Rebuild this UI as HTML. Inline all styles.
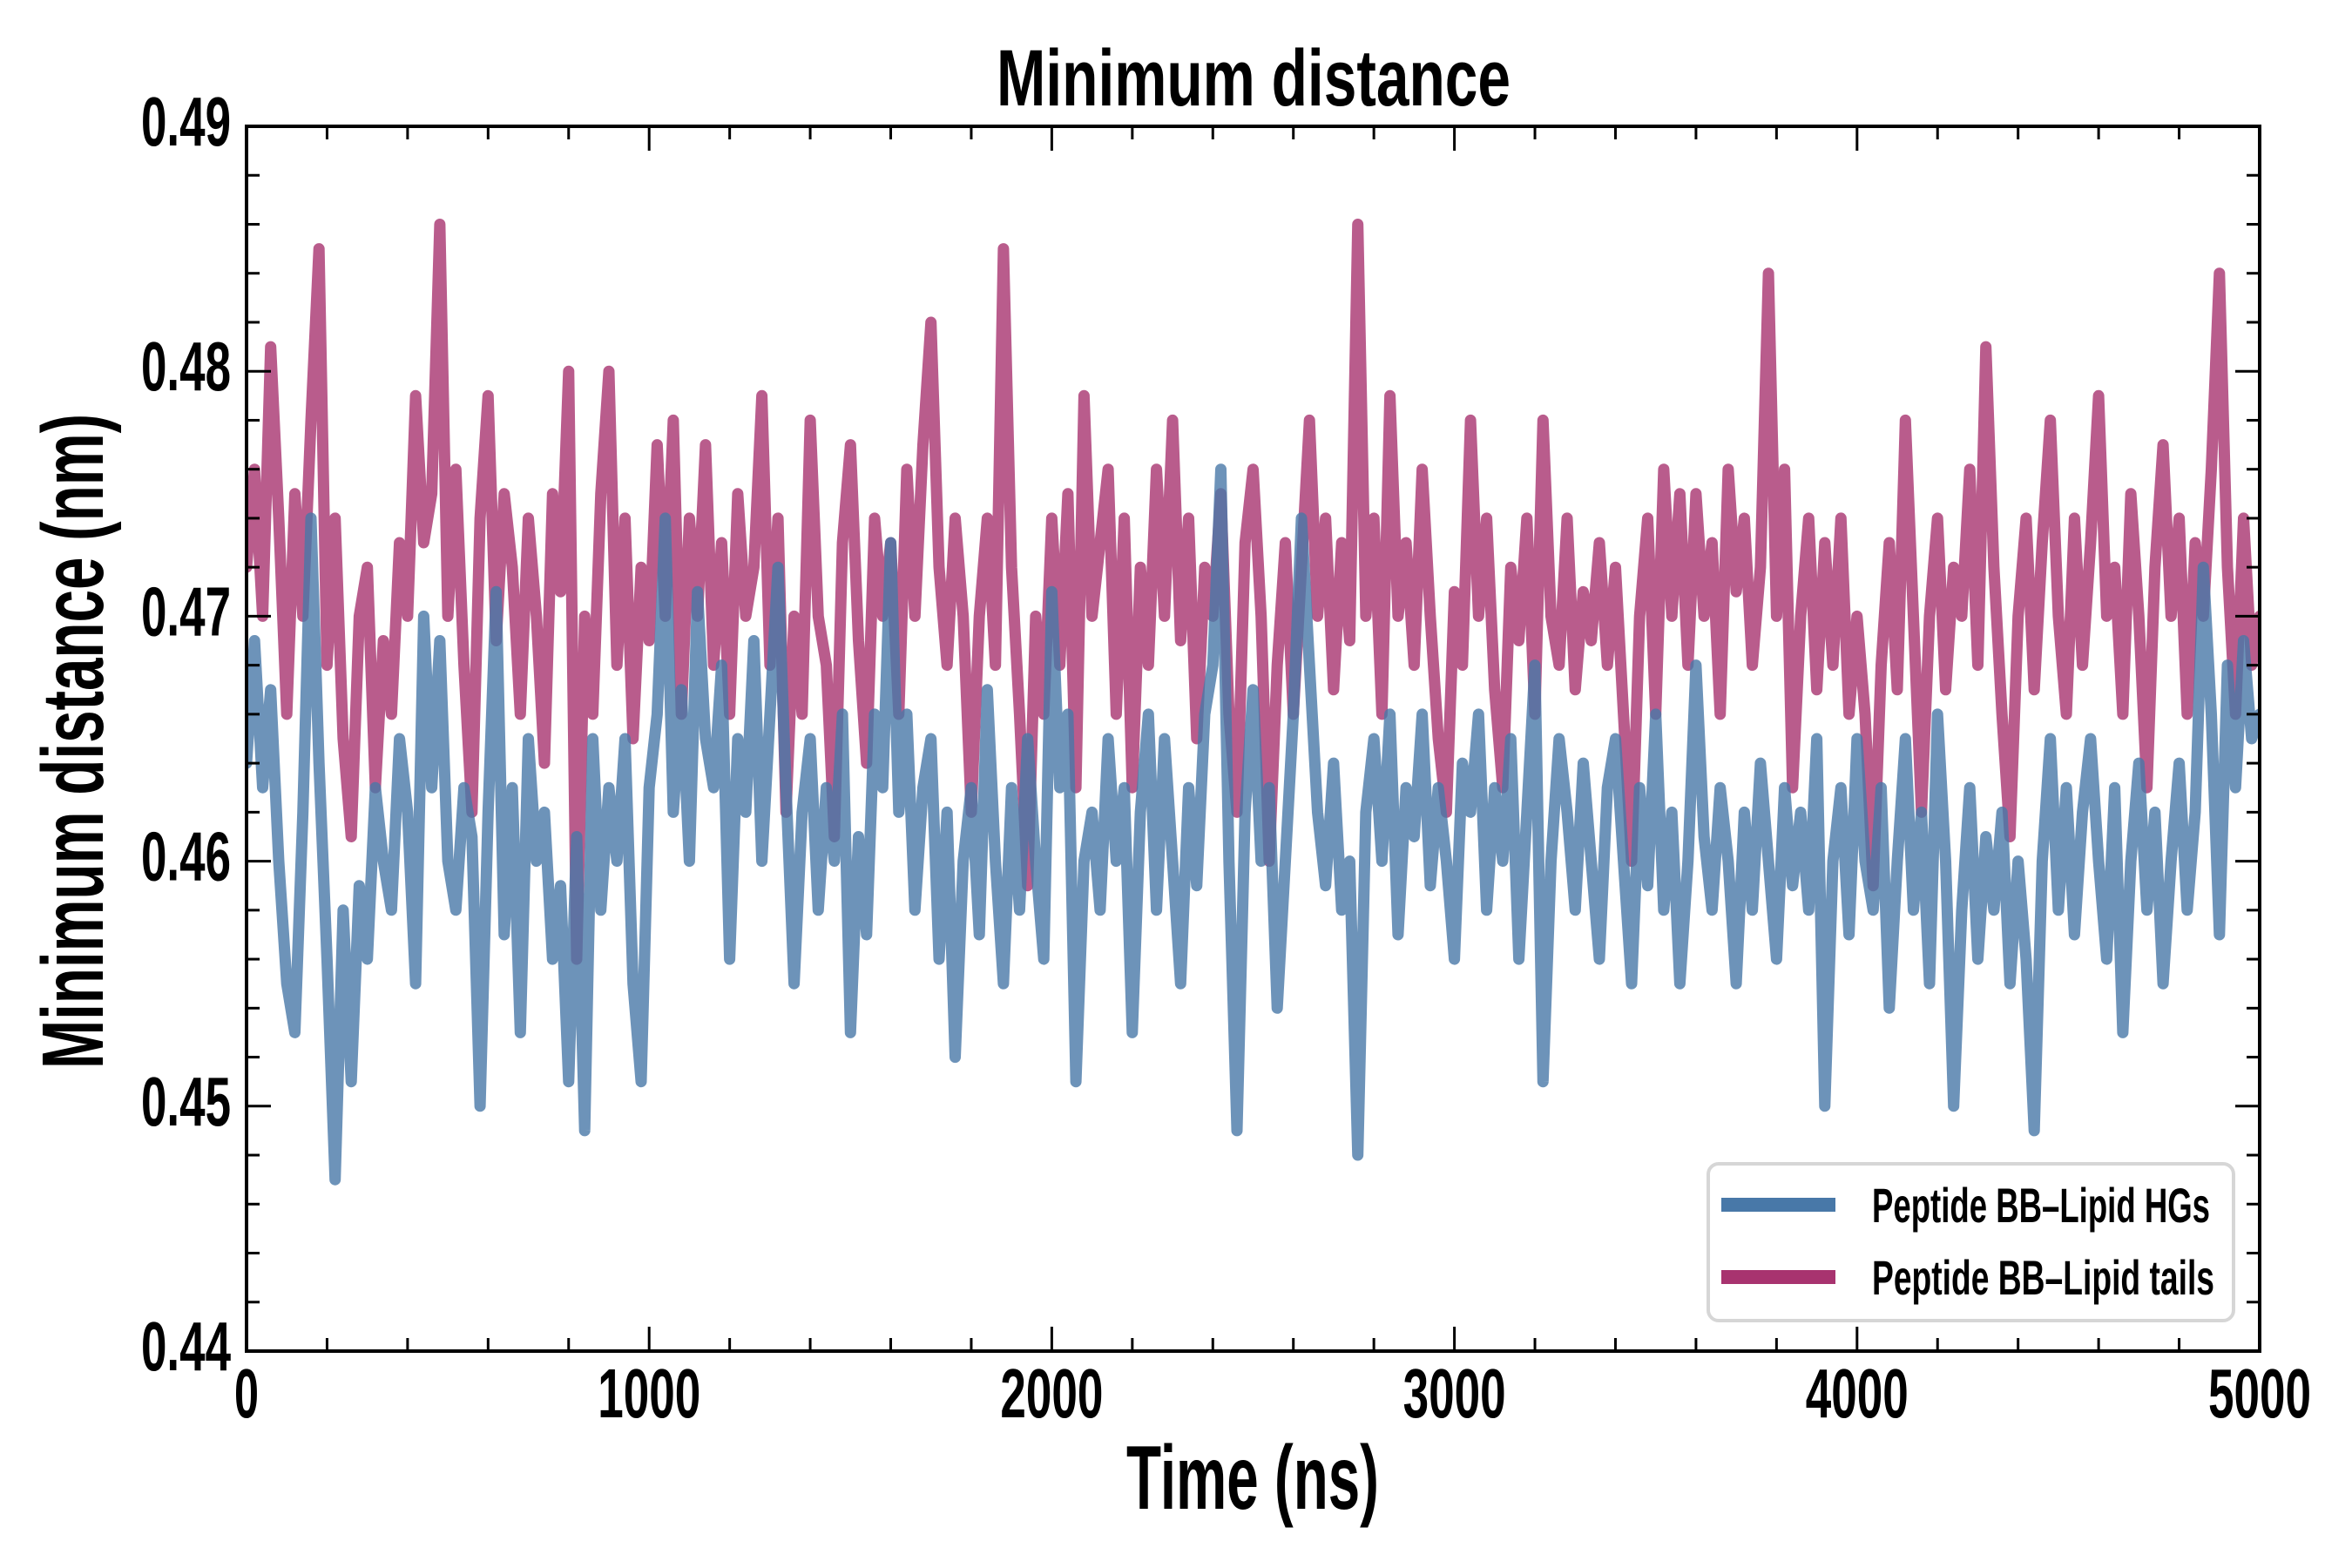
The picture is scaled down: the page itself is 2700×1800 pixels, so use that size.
<!DOCTYPE html>
<html><head><meta charset="utf-8"><title>Minimum distance</title>
<style>
html,body{margin:0;padding:0;background:#fff;}
svg{display:block;}
text{font-family:"Liberation Sans Narrow","Liberation Sans",sans-serif;font-weight:bold;fill:#000;}
</style></head>
<body>
<svg id="chart" width="2700" height="1800" viewBox="0 0 2700 1800" xmlns="http://www.w3.org/2000/svg">
  <rect x="0" y="0" width="2700" height="1800" fill="#fff"/>
  <text x="1439" y="121" text-anchor="middle" font-size="92" textLength="590" lengthAdjust="spacingAndGlyphs">Minimum distance</text>
  <text x="1438" y="1732" text-anchor="middle" font-size="104" textLength="290" lengthAdjust="spacingAndGlyphs">Time (ns)</text>
  <text transform="translate(118,851) rotate(-90)" x="0" y="0" text-anchor="middle" font-size="100" textLength="752" lengthAdjust="spacingAndGlyphs">Minimum distance (nm)</text>
  <g id="series"></g>
  <g id="ticks"></g>
  <rect x="283" y="145" width="2311" height="1406" fill="none" stroke="#000" stroke-width="4"/>
  <g>
    <rect x="1961" y="1336" width="603" height="180" rx="12" fill="#fff" fill-opacity="0.9" stroke="#d6d6d6" stroke-width="4"/>
    <g>
      <line x1="1976" y1="1383" x2="2107" y2="1383" stroke="#4878a8" stroke-width="16"/>
      <text x="2149" y="1403" font-size="56" textLength="388" lengthAdjust="spacingAndGlyphs">Peptide BB–Lipid HGs</text>
    </g>
    <g>
      <line x1="1976" y1="1466" x2="2107" y2="1466" stroke="#a8336f" stroke-width="16"/>
      <text x="2149" y="1486" font-size="56" textLength="393" lengthAdjust="spacingAndGlyphs">Peptide BB–Lipid tails</text>
    </g>
  </g>
</svg>
<script>
const xTickValues = [0, 1000, 2000, 3000, 4000, 5000];
const xTickLabels = ["0", "1000", "2000", "3000", "4000", "5000"];
const yTickValues = [0.44, 0.45, 0.46, 0.47, 0.48, 0.49];
const yTickLabels = ["0.44", "0.45", "0.46", "0.47", "0.48", "0.49"];
const timeStep = 20;
const tailsValues = [
0.472,0.476,0.470,0.481,0.474,0.466,0.475,0.470,0.478,0.485,
0.468,0.474,0.465,0.461,0.470,0.472,0.463,0.469,0.466,0.473,
0.470,0.479,0.473,0.475,0.486,0.470,0.476,0.468,0.462,0.474,
0.479,0.469,0.475,0.472,0.466,0.474,0.470,0.464,0.475,0.471,
0.480,0.456,0.470,0.466,0.475,0.480,0.468,0.474,0.465,0.472,
0.469,0.477,0.470,0.478,0.466,0.474,0.470,0.477,0.468,0.473,
0.466,0.475,0.470,0.472,0.479,0.468,0.474,0.462,0.470,0.466,
0.478,0.470,0.468,0.461,0.473,0.477,0.469,0.464,0.474,0.470,
0.473,0.466,0.476,0.470,0.477,0.482,0.472,0.468,0.474,0.470,
0.462,0.470,0.474,0.468,0.485,0.472,0.466,0.459,0.470,0.466,
0.474,0.468,0.475,0.463,0.479,0.470,0.473,0.476,0.466,0.474,
0.463,0.472,0.468,0.476,0.470,0.478,0.469,0.474,0.465,0.472,
0.470,0.475,0.466,0.462,0.473,0.476,0.470,0.460,0.468,0.473,
0.466,0.472,0.478,0.470,0.474,0.467,0.473,0.469,0.486,0.470,
0.474,0.466,0.479,0.470,0.473,0.468,0.476,0.470,0.465,0.462,
0.471,0.468,0.478,0.470,0.474,0.467,0.463,0.472,0.469,0.474,
0.466,0.478,0.470,0.468,0.474,0.467,0.471,0.469,0.473,0.468,
0.472,0.466,0.460,0.470,0.474,0.466,0.476,0.470,0.475,0.468,
0.475,0.470,0.473,0.466,0.476,0.471,0.474,0.468,0.472,0.484,
0.470,0.476,0.463,0.470,0.474,0.467,0.473,0.468,0.474,0.466,
0.470,0.466,0.459,0.468,0.473,0.467,0.478,0.470,0.462,0.470,
0.474,0.467,0.472,0.470,0.476,0.468,0.481,0.472,0.466,0.461,
0.470,0.474,0.467,0.473,0.478,0.470,0.466,0.474,0.468,0.473,
0.479,0.470,0.472,0.466,0.475,0.470,0.463,0.472,0.477,0.470,
0.474,0.466,0.473,0.470,0.476,0.484,0.472,0.466,0.474,0.468,
0.470];
const hgsValues = [
0.464,0.469,0.463,0.467,0.460,0.455,0.453,0.462,0.474,0.464,
0.456,0.447,0.458,0.451,0.459,0.456,0.463,0.460,0.458,0.465,
0.462,0.455,0.470,0.463,0.469,0.460,0.458,0.463,0.461,0.450,
0.462,0.471,0.457,0.463,0.453,0.465,0.460,0.462,0.456,0.459,
0.451,0.461,0.449,0.465,0.458,0.463,0.460,0.465,0.455,0.451,
0.463,0.466,0.474,0.462,0.467,0.460,0.471,0.465,0.463,0.468,
0.456,0.465,0.462,0.469,0.460,0.466,0.472,0.463,0.455,0.462,
0.465,0.458,0.463,0.460,0.466,0.453,0.461,0.457,0.466,0.463,
0.473,0.462,0.466,0.458,0.463,0.465,0.456,0.462,0.452,0.460,
0.463,0.457,0.467,0.460,0.455,0.463,0.458,0.465,0.460,0.456,
0.471,0.463,0.466,0.451,0.460,0.462,0.458,0.465,0.460,0.463,
0.453,0.462,0.466,0.458,0.465,0.460,0.455,0.463,0.459,0.466,
0.468,0.476,0.460,0.449,0.462,0.467,0.460,0.463,0.454,0.460,
0.466,0.474,0.468,0.462,0.459,0.464,0.458,0.460,0.448,0.462,
0.465,0.460,0.466,0.457,0.463,0.461,0.466,0.459,0.463,0.460,
0.456,0.464,0.462,0.466,0.458,0.463,0.460,0.465,0.456,0.462,
0.468,0.451,0.460,0.465,0.462,0.458,0.464,0.460,0.456,0.463,
0.465,0.460,0.455,0.463,0.459,0.466,0.458,0.462,0.455,0.460,
0.468,0.461,0.458,0.463,0.460,0.455,0.462,0.458,0.464,0.460,
0.456,0.463,0.459,0.462,0.458,0.465,0.450,0.460,0.463,0.457,
0.465,0.460,0.458,0.463,0.454,0.460,0.465,0.458,0.462,0.455,
0.466,0.460,0.450,0.458,0.463,0.456,0.461,0.458,0.462,0.455,
0.460,0.456,0.449,0.460,0.465,0.458,0.463,0.457,0.462,0.465,
0.460,0.456,0.463,0.453,0.460,0.464,0.458,0.462,0.455,0.460,
0.464,0.458,0.462,0.472,0.466,0.457,0.468,0.463,0.469,0.465,
0.466];

const NS = "http://www.w3.org/2000/svg";
const PL = 283, PR = 2594, PT = 145, PB = 1551;
const X_MIN = 0, X_MAX = 5000, Y_MIN = 0.44, Y_MAX = 0.49;
function xScale(v){ return PL + (v - X_MIN) / (X_MAX - X_MIN) * (PR - PL); }
function yScale(v){ return PB - (v - Y_MIN) / (Y_MAX - Y_MIN) * (PB - PT); }

const seriesLayer = document.getElementById('series');
const ticksLayer = document.getElementById('ticks');

function buildPath(vals){
  let d = '';
  vals.forEach((v, i) => {
    d += (i ? 'L' : 'M') + xScale(i * timeStep).toFixed(1) + ',' + yScale(v).toFixed(1);
  });
  return d;
}

const clip = document.createElementNS(NS, 'clipPath');
clip.setAttribute('id', 'plotclip');
const cr = document.createElementNS(NS, 'rect');
cr.setAttribute('x', PL); cr.setAttribute('y', PT);
cr.setAttribute('width', PR - PL); cr.setAttribute('height', PB - PT);
clip.appendChild(cr);
document.getElementById('chart').appendChild(clip);
seriesLayer.setAttribute('clip-path', 'url(#plotclip)');

const tailsPath = document.createElementNS(NS, 'path');


tailsPath.setAttribute('d', buildPath(tailsValues));
tailsPath.setAttribute('fill', 'none');
tailsPath.setAttribute('stroke', '#a8336f');
tailsPath.setAttribute('stroke-opacity', '0.8');
tailsPath.setAttribute('stroke-width', '13');
tailsPath.setAttribute('stroke-linejoin', 'round');
tailsPath.setAttribute('stroke-linecap', 'round');
seriesLayer.appendChild(tailsPath);

const hgsPath = document.createElementNS(NS, 'path');


hgsPath.setAttribute('d', buildPath(hgsValues));
hgsPath.setAttribute('fill', 'none');
hgsPath.setAttribute('stroke', '#4878a8');
hgsPath.setAttribute('stroke-opacity', '0.8');
hgsPath.setAttribute('stroke-width', '13');
hgsPath.setAttribute('stroke-linejoin', 'round');
hgsPath.setAttribute('stroke-linecap', 'round');
seriesLayer.appendChild(hgsPath);

function addLine(x1, y1, x2, y2, w, name){
  const l = document.createElementNS(NS, 'line');
  
  
  l.setAttribute('x1', x1); l.setAttribute('y1', y1);
  l.setAttribute('x2', x2); l.setAttribute('y2', y2);
  l.setAttribute('stroke', '#000'); l.setAttribute('stroke-width', w);
  ticksLayer.appendChild(l);
}
function addText(x, y, s, anchor, len, name){
  const t = document.createElementNS(NS, 'text');
  
  
  t.setAttribute('x', x); t.setAttribute('y', y);
  t.setAttribute('text-anchor', anchor);
  t.setAttribute('font-size', '80');
  t.setAttribute('textLength', len);
  t.setAttribute('lengthAdjust', 'spacingAndGlyphs');
  t.textContent = s;
  ticksLayer.appendChild(t);
}
for (let v = X_MIN; v <= X_MAX; v += 200) {
  const x = xScale(v);
  const major = v % 1000 === 0;
  const len = major ? 28 : 15;
  addLine(x, PB, x, PB - len, 3, major ? 'x-major-tick' : 'x-minor-tick');
  addLine(x, PT, x, PT + len, 3, major ? 'x-major-tick-top' : 'x-minor-tick-top');
}
xTickValues.forEach((v, i) => {
  const s = xTickLabels[i];
  addText(xScale(v), 1627, s, 'middle', s.length === 1 ? 28 : 118, 'x-tick-label');
});
for (let k = 0; k <= 25; k++) {
  const v = Y_MIN + k * 0.002;
  const y = yScale(v);
  const major = k % 5 === 0;
  const len = major ? 28 : 15;
  addLine(PL, y, PL + len, y, 3, major ? 'y-major-tick' : 'y-minor-tick');
  addLine(PR, y, PR - len, y, 3, major ? 'y-major-tick-right' : 'y-minor-tick-right');
}
yTickValues.forEach((v, i) => {
  addText(265, yScale(v) + 22, yTickLabels[i], 'end', 103, 'y-tick-label');
});
</script>
</body></html>
